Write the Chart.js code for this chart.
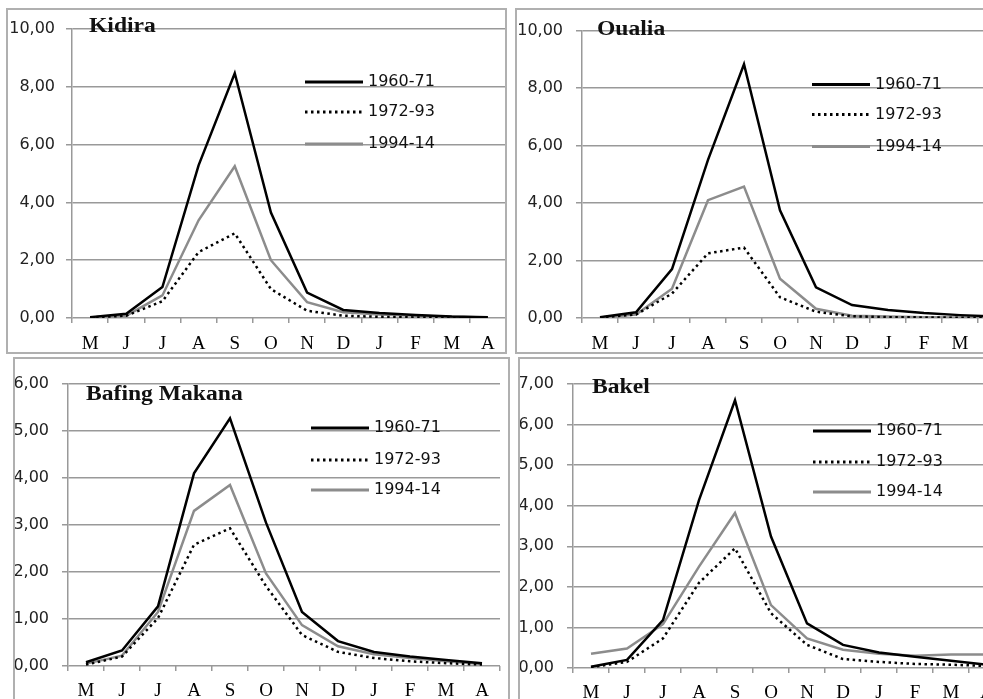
<!DOCTYPE html>
<html><head><meta charset="utf-8">
<script src="https://cdn.jsdelivr.net/npm/chart.js@4"></script>
<style>
html,body{margin:0;padding:0;background:#fff;overflow:hidden;width:983px;height:699px;position:relative;}
canvas{position:absolute;}
.panel{position:absolute;border:2px solid #b0b0b0;box-sizing:border-box;pointer-events:none;background:transparent;}
</style></head><body>
<canvas id="c1" width="501" height="346" style="left:6px;top:8px"></canvas>
<canvas id="c2" width="501" height="346" style="left:515px;top:8px"></canvas>
<canvas id="c3" width="497" height="348" style="left:13px;top:357px"></canvas>
<canvas id="c4" width="500" height="348" style="left:518px;top:357px"></canvas>
<div class="panel" style="left:6px;top:8px;width:501px;height:346px"></div>
<div class="panel" style="left:515px;top:8px;width:520px;height:346px"></div>
<div class="panel" style="left:13px;top:357px;width:497px;height:360px"></div>
<div class="panel" style="left:518px;top:357px;width:520px;height:360px"></div>
<script>
// ---- data ----
const months = ['M','J','J','A','S','O','N','D','J','F','M','A'];
const seriesLabels = ['1960-71','1972-93','1994-14'];
const stationNames = ['Kidira','Oualia','Bafing Makana','Bakel'];

const kidira1960 = [0.03, 0.15, 1.07, 5.28, 8.47, 3.65, 0.88, 0.28, 0.17, 0.10, 0.05, 0.03];
const kidira1972 = [0.02, 0.08, 0.58, 2.28, 2.93, 1.00, 0.25, 0.08, 0.04, 0.02, 0.01, 0.01];
const kidira1994 = [0.02, 0.08, 0.78, 3.38, 5.25, 2.00, 0.55, 0.20, 0.12, 0.08, 0.04, 0.02];

const oualia1960 = [0.03, 0.20, 1.70, 5.50, 8.83, 3.75, 1.07, 0.45, 0.28, 0.17, 0.10, 0.05];
const oualia1972 = [0.02, 0.12, 0.85, 2.25, 2.45, 0.72, 0.22, 0.06, 0.03, 0.02, 0.01, 0.01];
const oualia1994 = [0.02, 0.12, 1.02, 4.10, 4.57, 1.37, 0.32, 0.08, 0.05, 0.03, 0.02, 0.01];

const bafing1960 = [0.08, 0.33, 1.27, 4.10, 5.27, 3.05, 1.15, 0.53, 0.30, 0.20, 0.13, 0.06];
const bafing1972 = [0.03, 0.20, 1.02, 2.58, 2.93, 1.70, 0.66, 0.30, 0.17, 0.10, 0.06, 0.03];
const bafing1994 = [0.05, 0.22, 1.15, 3.30, 3.85, 1.97, 0.87, 0.42, 0.25, 0.17, 0.10, 0.04];

const bakel1960 = [0.03, 0.20, 1.18, 4.14, 6.60, 3.24, 1.10, 0.57, 0.38, 0.28, 0.18, 0.08];
const bakel1972 = [0.02, 0.15, 0.73, 2.10, 2.95, 1.35, 0.57, 0.22, 0.15, 0.10, 0.08, 0.05];
const bakel1994 = [0.35, 0.48, 1.08, 2.50, 3.82, 1.55, 0.73, 0.45, 0.35, 0.30, 0.33, 0.33];

const yMax = [10, 10, 6, 7];
const yStep = [2, 2, 1, 1];

// ---- drawing ----
const decor = {
  id: 'panelDecor',
  afterDatasetsDraw(chart, args, o) {
    const ctx = chart.ctx, a = chart.chartArea;
    ctx.save();
    ctx.font = 'bold 20px "Liberation Serif"';
    ctx.fillStyle = '#111';
    ctx.textBaseline = 'middle';
    ctx.translate(a.left + o.titleX, a.top + o.titleY);
    ctx.scale(1.18, 1);
    ctx.fillText(o.title, 0, 0);
    ctx.restore();
    chart.data.datasets.forEach((ds, i) => {
      const y = a.top + o.legY[i];
      const x0 = a.left + o.legX;
      ctx.save();
      ctx.strokeStyle = ds.borderColor;
      ctx.lineWidth = ds.borderWidth + 0.5;
      ctx.setLineDash(ds.borderDash || []);
      ctx.beginPath(); ctx.moveTo(x0, y); ctx.lineTo(x0 + 58, y); ctx.stroke();
      ctx.setLineDash([]);
      ctx.font = '16px "DejaVu Sans"';
      ctx.fillStyle = '#111';
      ctx.textBaseline = 'middle';
      ctx.fillText(ds.label, x0 + 63, y);
      ctx.restore();
    });
  }
};

function makeChart(id, idx, series, L) {
  const styles = [
    {borderColor:'#000', borderWidth:2.5},
    {borderColor:'#000', borderWidth:2.5, borderDash:[2.5,3.5]},
    {borderColor:'#8c8c8c', borderWidth:2.5}
  ];
  new Chart(document.getElementById(id), {
    type: 'line',
    data: {
      labels: months,
      datasets: series.map((d, i) => Object.assign({
        label: seriesLabels[i], data: d, pointRadius: 0, tension: 0, fill: false
      }, styles[i]))
    },
    options: {
      responsive: false, animation: false, devicePixelRatio: 1,
      layout: {padding: {top: L.padTop, right: L.padRight, left: 0, bottom: 0}},
      plugins: {
        legend: {display: false}, tooltip: {enabled: false},
        panelDecor: {title: stationNames[idx], titleX: L.titleX, titleY: L.titleY, legX: L.legX, legY: L.legY}
      },
      scales: {
        x: {
          offset: true,
          grid: {offset: true, drawOnChartArea: false, drawTicks: true, tickLength: 5, color: '#999', lineWidth: 1.5},
          border: {display: false},
          ticks: {font: {family: 'Liberation Serif', size: 19}, color: '#000', padding: L.xPad, maxRotation: 0, autoSkip: false},
          afterFit(s) { s.height = L.xH; }
        },
        y: {
          min: 0, max: yMax[idx],
          ticks: {stepSize: yStep[idx], callback: v => v.toFixed(2).replace('.', ','),
                  font: {family: 'DejaVu Sans', size: 16}, color: '#222', padding: L.yPad},
          grid: {color: '#999', lineWidth: 1.5, tickLength: 6},
          border: {color: '#999', width: 1.5},
          afterFit(s) { s.width = L.yW; }
        }
      }
    },
    plugins: [decor]
  });
}

makeChart('c1', 0, [kidira1960, kidira1972, kidira1994],
  {padTop:21, padRight:1, xH:36, xPad:10, yW:66, yPad:11, titleX:17, titleY:-2, legX:233, legY:[53,83,115]});
makeChart('c2', 1, [oualia1960, oualia1972, oualia1994],
  {padTop:20, padRight:2, xH:36, xPad:10, yW:67, yPad:13, titleX:15, titleY:-1, legX:230, legY:[54,84,116]});
makeChart('c3', 2, [bafing1960, bafing1972, bafing1994],
  {padTop:27, padRight:10, xH:39, xPad:9, yW:55, yPad:13, titleX:18, titleY:11, legX:243, legY:[44,76,106]});
makeChart('c4', 3, [bakel1960, bakel1972, bakel1994],
  {padTop:27, padRight:13, xH:37, xPad:9, yW:55, yPad:13, titleX:19, titleY:4, legX:240, legY:[47,78,108]});
</script>
</body></html>
